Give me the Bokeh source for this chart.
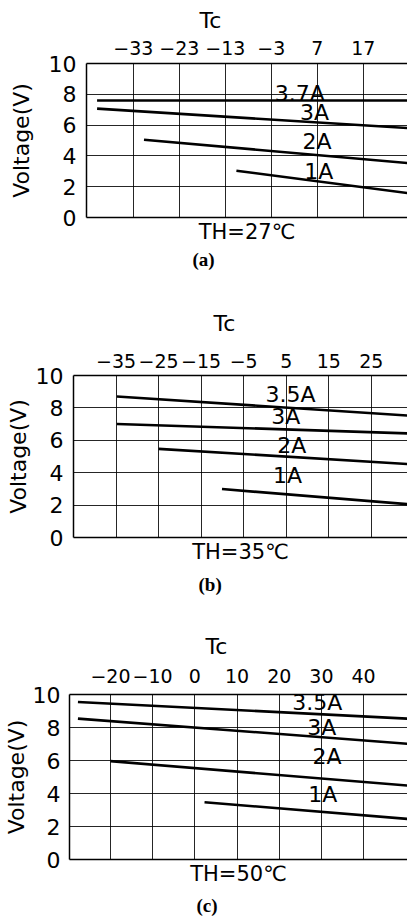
from bokeh.plotting import figure
from bokeh.models import FixedTicker, LinearAxis, Title, Range1d, ColumnDataSource
from bokeh.layouts import column
from bokeh.embed import file_html
from bokeh.resources import INLINE
from bokeh.core.properties import value

# ---------------- data ----------------
currents = ["3.7A", "3A", "2A", "1A"]
currents_bc = ["3.5A", "3A", "2A", "1A"]

# Panel (a): TH = 27 C
a_ticks = [-33, -23, -13, -3, 7, 17]
a_tc = {"3.7A": [-40.9, 27.0], "3A": [-40.9, 27.0], "2A": [-30.7, 27.0], "1A": [-10.6, 27.0]}
a_v = {"3.7A": [7.6, 7.6], "3A": [7.07, 5.8], "2A": [5.05, 3.53], "1A": [3.04, 1.57]}
a_lab_tc = [3.2, 6.4, 6.9, 7.3]
a_lab_v = [8.05, 6.8, 4.95, 2.99]

# Panel (b): TH = 35 C
b_ticks = [-35, -25, -15, -5, 5, 15, 25]
b_tc = {"3.5A": [-34.8, 34.0], "3A": [-34.8, 34.0], "2A": [-25.0, 34.0], "1A": [-10.1, 34.0]}
b_v = {"3.5A": [8.7, 7.52], "3A": [7.01, 6.42], "2A": [5.47, 4.53], "1A": [2.99, 2.05]}
b_lab_tc = [6.0, 4.9, 6.3, 5.3]
b_lab_v = [8.83, 7.46, 5.7, 3.82]

# Panel (c): TH = 50 C
c_ticks = [-20, -10, 0, 10, 20, 30, 40]
c_tc = {"3.5A": [-27.7, 51.0], "3A": [-27.7, 51.0], "2A": [-20.0, 51.0], "1A": [2.3, 51.0]}
c_v = {"3.5A": [9.55, 8.53], "3A": [8.54, 7.0], "2A": [5.96, 4.47], "1A": [3.47, 2.45]}
c_lab_tc = [29.0, 30.1, 31.3, 30.3]
c_lab_v = [9.5, 7.98, 6.26, 3.93]

y_ticks = [0, 2, 4, 6, 8, 10]
y_grid = [2, 4, 6, 8]

SANS = "DejaVu Sans"
SERIF = "Liberation Serif"


def make_panel(height, btop, bbot, bleft, xr, ticks, names, tcs, vs, lab_tc, lab_v,
               th, tag, tc_offset, tc_standoff, tag_offset, tag_standoff,
               tick_standoff, ylab_tick_standoff, ylab_standoff):
    p = figure(width=407, height=height, x_range=Range1d(*xr), y_range=Range1d(0, 10),
               x_axis_location="above", output_backend="svg", toolbar_location=None,
               min_border_top=btop, min_border_bottom=bbot, min_border_left=bleft,
               min_border_right=0)
    p.frame_align = False
    p.outline_line_color = None
    p.background_fill_color = "white"
    p.border_fill_color = "white"

    p.title.text = "Tc"
    p.title.align = "left"
    p.title.offset = tc_offset
    p.title.text_font = SANS
    p.title.text_font_size = "22px"
    p.title.text_font_style = "normal"
    p.title.text_color = "black"
    p.title.standoff = tc_standoff

    xt = FixedTicker(ticks=ticks)
    xa = p.xaxis[0]
    xa.ticker = xt
    xa.major_tick_out = 0
    xa.major_tick_in = 0
    xa.minor_tick_out = 0
    xa.minor_tick_in = 0
    xa.axis_line_width = 1.5
    xa.axis_line_color = "black"
    xa.major_label_text_font = SANS
    xa.major_label_text_font_size = "19px"
    xa.major_label_text_color = "black"
    xa.major_label_standoff = tick_standoff

    ya = p.yaxis[0]
    ya.ticker = FixedTicker(ticks=y_ticks)
    ya.major_tick_out = 0
    ya.major_tick_in = 0
    ya.minor_tick_out = 0
    ya.minor_tick_in = 0
    ya.axis_line_width = 1.5
    ya.axis_line_color = "black"
    ya.major_label_text_font = SANS
    ya.major_label_text_font_size = "22px"
    ya.major_label_text_color = "black"
    ya.major_label_standoff = ylab_tick_standoff
    ya.axis_label = "Voltage(V)"
    ya.axis_label_text_font = SANS
    ya.axis_label_text_font_size = "22px"
    ya.axis_label_text_font_style = "normal"
    ya.axis_label_text_color = "black"
    ya.axis_label_standoff = ylab_standoff

    p.xgrid.ticker = xt
    p.ygrid.ticker = FixedTicker(ticks=y_grid)
    for g in (p.xgrid, p.ygrid):
        g.grid_line_color = "black"
        g.grid_line_width = 1
        g.grid_line_alpha = 0.85

    bottom = LinearAxis(ticker=FixedTicker(ticks=[]), axis_label=th,
                        major_tick_out=0, major_tick_in=0, minor_tick_out=0, minor_tick_in=0,
                        major_label_standoff=0, axis_label_standoff=2,
                        axis_line_width=1.5, axis_line_color="black",
                        axis_label_text_font=SANS, axis_label_text_font_size="21px",
                        axis_label_text_font_style="normal", axis_label_text_color="black")
    p.add_layout(bottom, "below")
    p.add_layout(Title(text=tag, align="left", offset=tag_offset, text_font=SERIF,
                       text_font_size="19px", text_font_style="bold", text_color="black",
                       standoff=tag_standoff), "below")

    for n in names:
        p.line(tcs[n], vs[n], line_color="black", line_width=2.6)

    src = ColumnDataSource(dict(x=lab_tc, y=lab_v, t=names))
    p.text(x="x", y="y", text="t", source=src, text_font=value(SANS),
           text_font_size="22px", text_align="center", text_baseline="middle",
           text_color="black")
    return p


pa = make_panel(280, 63, 63, 86, (-43.2, 26.6), a_ticks, currents, a_tc, a_v,
                a_lab_tc, a_lab_v, "TH=27\u2103", "(a)", 113, 10, 106, 0, 9, 10, 12)
pb = make_panel(320, 95, 63, 73, (-45.0, 33.5), b_ticks, currents_bc, b_tc, b_v,
                b_lab_tc, b_lab_v, "TH=35\u2103", "(b)", 140, 29, 125, 10, 8, 10, 2)
pc = make_panel(324, 94, 65, 69, (-29.7, 50.4), c_ticks, currents_bc, c_tc, c_v,
                c_lab_tc, c_lab_v, "TH=50\u2103", "(c)", 136, 13, 127, 8, 12, 9, 1)

layout = column(pa, pb, pc, spacing=0)
open("out.html", "w").write(file_html(layout, INLINE))
